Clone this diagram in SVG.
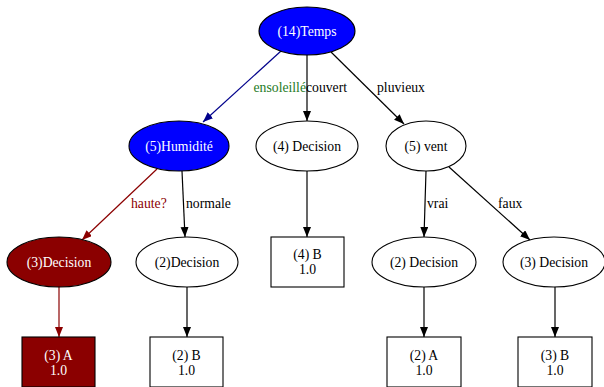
<svg xmlns="http://www.w3.org/2000/svg" width="604" height="387" viewBox="0 0 604 387">
  <style>
    text { font-family: "Liberation Serif", "Times New Roman", serif; font-size: 13.7px; }
    .n { fill: #ffffff; stroke: #000000; stroke-width: 1.1; }
    .blue { fill: #0000ff; }
    .red { fill: #8b0000; }
    .c { text-anchor: middle; fill: #000000; }
    .w { text-anchor: middle; fill: #ffffff; }
    .e { fill: none; stroke: #000000; stroke-width: 1.2; marker-end: url(#ah); }
    .e.navy { stroke: #00008b; marker-end: url(#ahNavy); }
    .e.dred { stroke: #8b0000; marker-end: url(#ahRed); }
    .lbl { fill: #000000; }
  </style>
  <defs>
    <marker id="ah" markerUnits="userSpaceOnUse" markerWidth="11" markerHeight="9" refX="10" refY="4" orient="auto">
      <path d="M0,0 L10,4 L0,8 z" fill="#000000"/>
    </marker>
    <marker id="ahNavy" markerUnits="userSpaceOnUse" markerWidth="11" markerHeight="9" refX="10" refY="4" orient="auto">
      <path d="M0,0 L10,4 L0,8 z" fill="#00008b"/>
    </marker>
    <marker id="ahRed" markerUnits="userSpaceOnUse" markerWidth="11" markerHeight="9" refX="10" refY="4" orient="auto">
      <path d="M0,0 L10,4 L0,8 z" fill="#8b0000"/>
    </marker>
  </defs>
  <rect width="604" height="387" fill="#ffffff"/>

  <g id="edges">
    <path class="e navy" d="M281,51 L203,122"/>
    <path class="e" d="M307,55 L307,121"/>
    <path class="e" d="M331,52 L404,124"/>
    <path class="e dred" d="M157,169 L82,240"/>
    <path class="e" d="M182,171 L185,237"/>
    <path class="e" d="M307,171 L307,237"/>
    <path class="e" d="M426,171 L424,237"/>
    <path class="e" d="M449,167 L530,240"/>
    <path class="e dred" d="M59,287 L59,337"/>
    <path class="e" d="M187,287 L187,337"/>
    <path class="e" d="M424,287 L424,337"/>
    <path class="e" d="M555,287 L555,337"/>
    <text x="306" y="92" text-anchor="end" fill="#1e7b1e">ensoleillé</text>
    <text x="306" y="92" class="lbl">couvert</text>
    <text x="377" y="92" class="lbl">pluvieux</text>
    <text x="131" y="208" fill="#8b0000">haute?</text>
    <text x="186" y="208" class="lbl">normale</text>
    <text x="427" y="208" class="lbl">vrai</text>
    <text x="498" y="208" class="lbl">faux</text>
  </g>

  <g id="temps">
    <ellipse class="n blue" cx="307" cy="31" rx="48" ry="24"/>
    <text class="w" x="307" y="36">(14)Temps</text>
  </g>
  <g id="humidite">
    <ellipse class="n blue" cx="179" cy="146" rx="50" ry="25"/>
    <text class="w" x="179" y="151">(5)Humidité</text>
  </g>
  <g id="decision4">
    <ellipse class="n" cx="307" cy="146" rx="51" ry="25"/>
    <text class="c" x="307" y="151">(4) Decision</text>
  </g>
  <g id="vent">
    <ellipse class="n" cx="426" cy="146" rx="40" ry="25"/>
    <text class="c" x="426" y="151">(5) vent</text>
  </g>
  <g id="decision3a">
    <ellipse class="n red" cx="59" cy="262" rx="52" ry="25"/>
    <text class="w" x="59" y="267">(3)Decision</text>
  </g>
  <g id="decision2a">
    <ellipse class="n" cx="187" cy="262" rx="51" ry="25"/>
    <text class="c" x="187" y="267">(2)Decision</text>
  </g>
  <g id="leaf4b">
    <rect class="n" x="271" y="237" width="73" height="50"/>
    <text class="c" x="307.5" y="259">(4) B</text>
    <text class="c" x="307.5" y="274">1.0</text>
  </g>
  <g id="decision2b">
    <ellipse class="n" cx="424" cy="262" rx="52" ry="25"/>
    <text class="c" x="424" y="267">(2) Decision</text>
  </g>
  <g id="decision3b">
    <ellipse class="n" cx="554" cy="262" rx="51" ry="25"/>
    <text class="c" x="554" y="267">(3) Decision</text>
  </g>
  <g id="leaf3a">
    <rect class="n red" x="22" y="337" width="73" height="50"/>
    <text class="w" x="58.5" y="360">(3) A</text>
    <text class="w" x="58.5" y="375">1.0</text>
  </g>
  <g id="leaf2b">
    <rect class="n" x="150" y="337" width="73" height="50"/>
    <text class="c" x="186.5" y="360">(2) B</text>
    <text class="c" x="186.5" y="375">1.0</text>
  </g>
  <g id="leaf2a">
    <rect class="n" x="387" y="337" width="74" height="50"/>
    <text class="c" x="424" y="360">(2) A</text>
    <text class="c" x="424" y="375">1.0</text>
  </g>
  <g id="leaf3b">
    <rect class="n" x="518" y="337" width="74" height="50"/>
    <text class="c" x="555" y="360">(3) B</text>
    <text class="c" x="555" y="375">1.0</text>
  </g>
</svg>
